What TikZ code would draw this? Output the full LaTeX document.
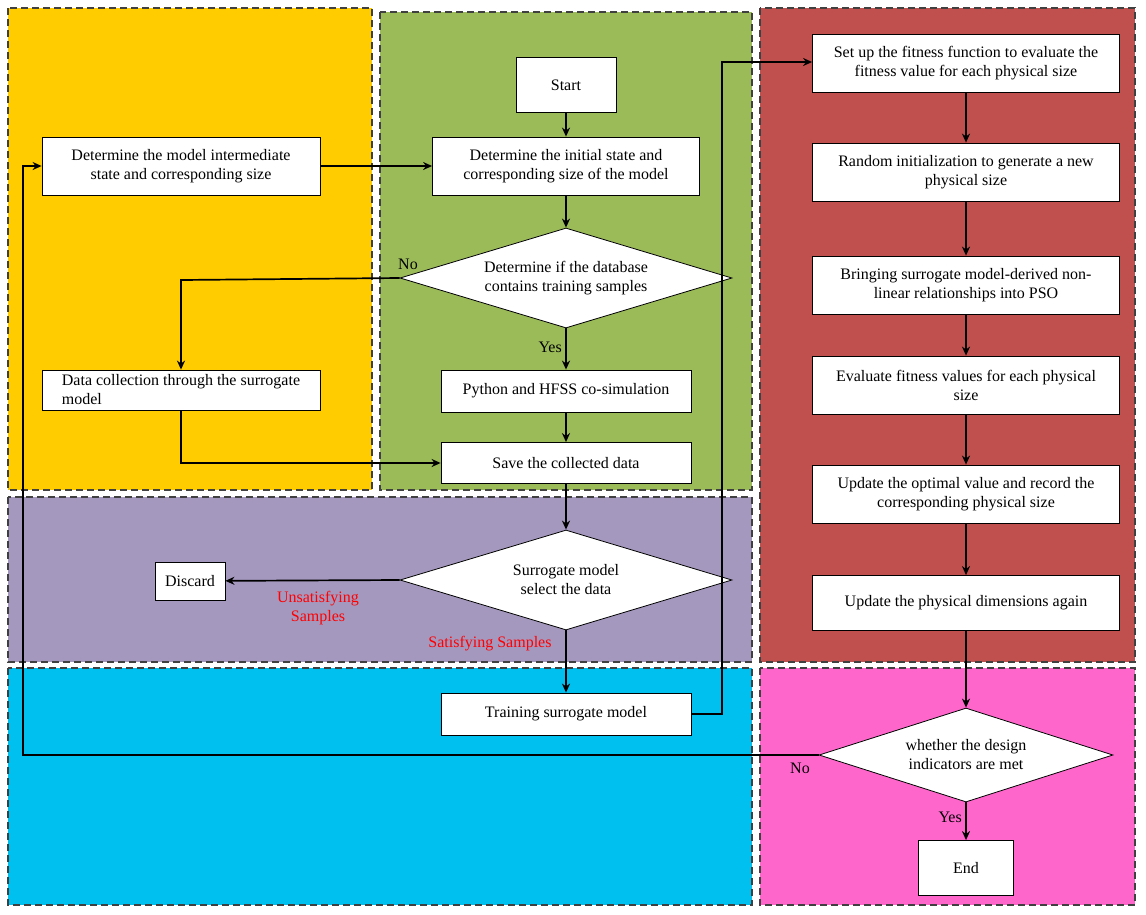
\documentclass[tikz,border=0pt]{standalone}
\usepackage{fontspec}
\setmainfont{Liberation Serif}
\usetikzlibrary{shapes.geometric,arrows.meta}
\definecolor{cy}{HTML}{FFCC00}
\definecolor{cg}{HTML}{9BBB59}
\definecolor{cr}{HTML}{C0504D}
\definecolor{cp}{HTML}{A598BF}
\definecolor{cc}{HTML}{00C0F0}
\definecolor{cm}{HTML}{FF66CC}
\begin{document}
\begin{tikzpicture}[x=1pt,y=-1pt,
 font=\fontsize{16}{19}\selectfont,
 region/.style={draw=black!75,dash pattern=on 7pt off 4pt,line width=1.3pt},
 box/.style={draw,fill=white,line width=0.8pt,align=center,inner sep=2pt},
 dia/.style={draw,fill=white,diamond,aspect=3.3,line width=0.8pt,align=center,inner sep=0pt},
 arr/.style={-{Stealth[length=9pt,width=8pt]},line width=1.7pt},
 lab/.style={font=\fontsize{16}{19}\selectfont},
 red/.style={text=red,font=\fontsize{16}{19}\selectfont}]
\useasboundingbox (0,0) rectangle (1146,914);
\fill[white] (0,0) rectangle (1146,914);
\filldraw[region,fill=cy] (8,8) rectangle (372,490);
\filldraw[region,fill=cg] (380,12) rectangle (752,490);
\filldraw[region,fill=cr] (760,8) rectangle (1135,662);
\filldraw[region,fill=cp] (8,497) rectangle (752,662);
\filldraw[region,fill=cc] (8,668) rectangle (752,905);
\filldraw[region,fill=cm] (760,668) rectangle (1135,905);

\node[box,minimum width=100,minimum height=55] (start) at (566,85) {Start};
\node[box,minimum width=267,minimum height=58] (init) at (566,166) {Determine the initial state and\\corresponding size of the model};
\node[dia,minimum width=332,minimum height=100] (db) at (566,278) {Determine if the database\\contains training samples};
\node[box,minimum width=250,minimum height=42] (py) at (566,391) {Python and HFSS co-simulation};
\node[box,minimum width=250,minimum height=41] (save) at (566,463) {Save the collected data};
\node[dia,minimum width=332,minimum height=100] (sel) at (566,580) {Surrogate model\\select the data};
\node[box,minimum width=70,minimum height=38] (disc) at (190,581) {Discard};
\node[box,minimum width=250,minimum height=42] (train) at (566,714) {Training surrogate model};
\node[box,minimum width=278,minimum height=58] (inter) at (181,166) {Determine the model intermediate\\state and corresponding size};
\node[box,minimum width=278,minimum height=40,align=left] (coll) at (181,390) {Data collection through the surrogate\\model};

\node[box,minimum width=307,minimum height=58] (f1) at (966,63) {Set up the fitness function to evaluate the\\fitness value for each physical size};
\node[box,minimum width=307,minimum height=58] (f2) at (966,172) {Random initialization to generate a new\\physical size};
\node[box,minimum width=307,minimum height=58] (f3) at (966,285) {Bringing surrogate model-derived non-\\linear relationships into PSO};
\node[box,minimum width=307,minimum height=58] (f4) at (966,385) {Evaluate fitness values for each physical\\size};
\node[box,minimum width=307,minimum height=58] (f5) at (966,494) {Update the optimal value and record the\\corresponding physical size};
\node[box,minimum width=307,minimum height=55] (f6) at (966,603) {Update the physical dimensions again};
\node[dia,minimum width=294,minimum height=94] (wh) at (966,755) {whether the design\\indicators are met};
\node[box,minimum width=95,minimum height=55] (end) at (966,868) {End};

\draw[arr] (start) -- (init);
\draw[arr] (init) -- (db);
\draw[arr] (db) -- node[lab,left,pos=0.45]{Yes} (py);
\draw[arr] (py) -- (save);
\draw[arr] (save) -- (sel);
\draw[arr] (sel.west) -- (disc);
\node[red,align=center] at (318,608) {Unsatisfying\\Samples};
\draw[arr] (sel) -- (train);
\node[red] at (490,644) {Satisfying Samples};
\draw[arr] (db.west) -- (181,280) -- (coll.north);
\node[lab] at (408,264) {No};
\draw[arr] (coll.south) -- (181,463) -- (save.west);
\draw[arr] (inter) -- (init);
\coordinate (t1) at (722,714);
\coordinate (t2) at (722,62);
\draw[arr] (train.east) -- (t1) -- (t2) -- (f1.west|-t2);
\draw[arr] (f1) -- (f2);
\draw[arr] (f2) -- (f3);
\draw[arr] (f3) -- (f4);
\draw[arr] (f4) -- (f5);
\draw[arr] (f5) -- (f6);
\draw[arr] (f6) -- (wh);
\draw[arr] (wh) -- node[lab,left,pos=0.4]{Yes} (end);
\coordinate (n1) at (23,755);
\coordinate (n2) at (23,166);
\draw[arr] (wh.west) -- (n1) -- (n2) -- (inter.west);
\node[lab] at (800,768) {No};
\end{tikzpicture}
\end{document}
